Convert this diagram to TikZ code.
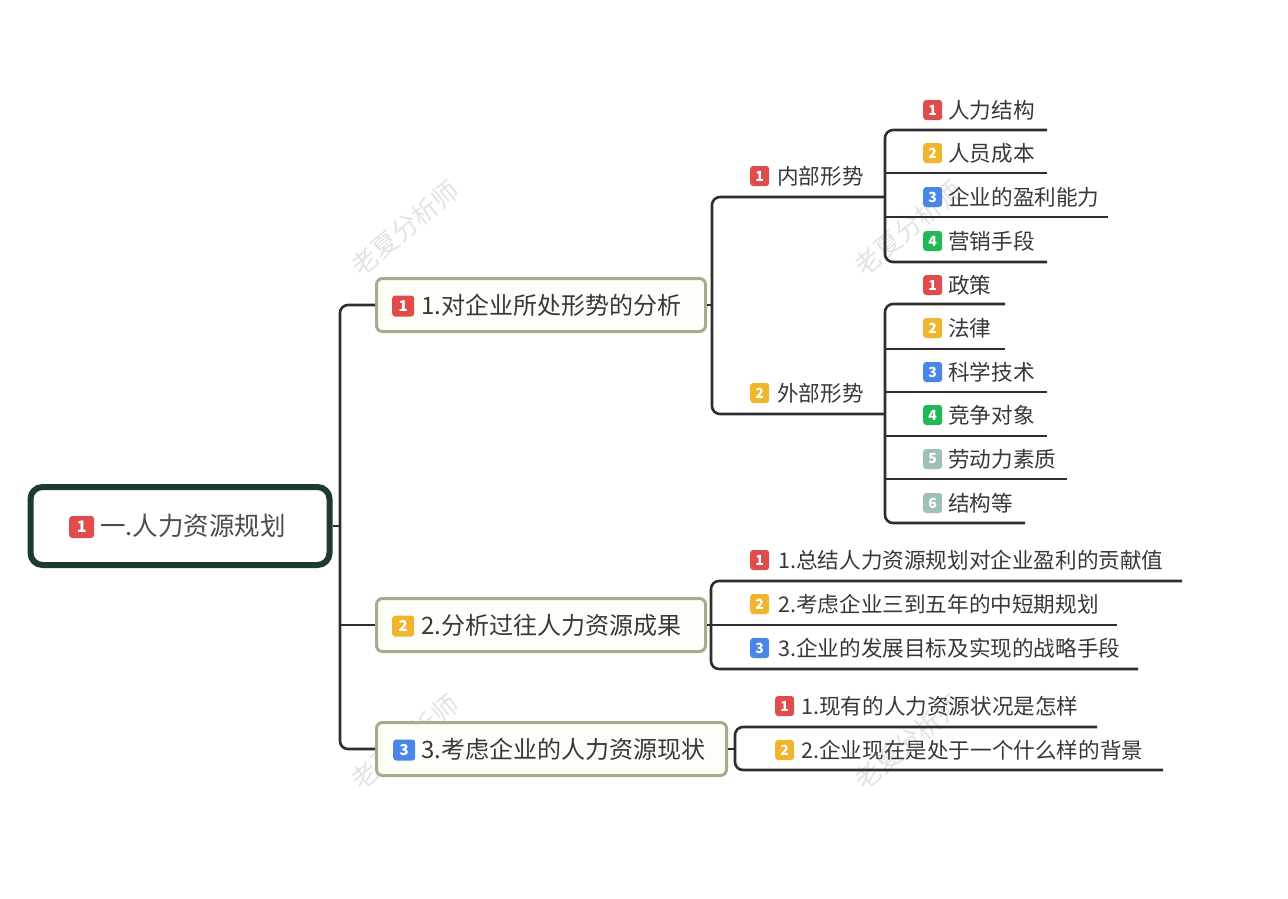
\documentclass[tikz,border=0pt]{standalone}
\usepackage{fontspec}
\setmainfont{Noto Sans CJK SC}
\newfontfamily\cjk{Noto Sans CJK SC}
\definecolor{cred}{HTML}{E04B4B}
\definecolor{corange}{HTML}{F0B42D}
\definecolor{cblue}{HTML}{4A86E8}
\definecolor{cgreen}{HTML}{22B85A}
\definecolor{cgray}{HTML}{9FBFB9}
\definecolor{cline}{HTML}{2E2E2E}
\definecolor{ctext}{HTML}{383838}
\definecolor{croot}{HTML}{1D3A30}
\definecolor{cl1}{HTML}{A9A98C}
\definecolor{cl1fill}{HTML}{FEFEF9}
\tikzset{
  conn/.style={draw=cline, line width=2.6pt, rounded corners=8pt},
  badge/.style={rounded corners=3pt, inner sep=0pt, minimum width=19pt, minimum height=20pt,
    text=white, font=\cjk\bfseries\fontsize{14}{14}\selectfont, anchor=west},
  bigbadge/.style={badge, minimum width=22pt, minimum height=21pt, font=\cjk\bfseries\fontsize{15}{15}\selectfont},
  rootbadge/.style={badge, minimum width=25pt, minimum height=22pt, font=\cjk\bfseries\fontsize{16}{16}\selectfont},
  lbl/.style={inner sep=0pt, anchor=west, text=ctext, font=\cjk\fontsize{21.6}{21.6}\selectfont},
  lbla/.style={lbl, font=\cjk\fontsize{24}{24}\selectfont},
  lblroot/.style={lbl, text=black!70, font=\cjk\fontsize{25.5}{25.5}\selectfont},
  levelone/.style={draw=cl1, fill=cl1fill, line width=3pt, rounded corners=6pt, inner sep=0pt, minimum height=53pt},
  rootbox/.style={draw=croot, fill=white, line width=6pt, rounded corners=12pt, inner sep=0pt,
    minimum width=299pt, minimum height=78pt},
  wm/.style={text=black!11, font=\cjk\fontsize{26}{26}\selectfont, rotate=40, inner sep=0pt}
}
\newcommand\mmleaf[7]{%
  \node[badge, fill=#5] (#1b) at (#2,#3) {#6};
  \node[lbl] (#1) at (#4,#3) {#7};}
\begin{document}
\begin{tikzpicture}[x=1pt, y=-1pt]
\useasboundingbox (0,0) rectangle (1288,898);
\fill[white] (0,0) rectangle (1288,898);

% watermarks
\node[wm] (wm1) at (405,228) {老夏分析师};
\node[wm] (wm2) at (908,228) {老夏分析师};
\node[wm] (wm3) at (405,742) {老夏分析师};
\node[wm] (wm4) at (908,742) {老夏分析师};

% root
\node[rootbox] (root) at (180,526) {};
\node[rootbadge, fill=cred] (rootb) at (69,527) {1};
\node[lblroot] (roott) at (100,526) {一.人力资源规划};

% level one
\node[levelone, minimum width=329pt] (A) at (541,305) {};
\node[bigbadge, fill=cred] (Ab) at (392,306) {1};
\node[lbla] (At) at (421,305) {1.对企业所处形势的分析};

\node[levelone, minimum width=329pt] (B) at (541,625) {};
\node[bigbadge, fill=corange] (Bb) at (392,626) {2};
\node[lbla] (Bt) at (421,625) {2.分析过往人力资源成果};

\node[levelone, minimum width=350pt] (C) at (551.5,749) {};
\node[bigbadge, fill=cblue] (Cb) at (393,750) {3};
\node[lbla] (Ct) at (421,749) {3.考虑企业的人力资源现状};

% root trunk
\coordinate (t1) at (340,305);
\coordinate (t3) at (340,749);
\draw[conn] (A.west) -- (t1) -- (t3) -- (C.west);
\draw[conn] (root.east) -- (root.east -| t1);
\draw[conn] (B.west) -- (B.west -| t1);

% level two under A
\mmleaf{in}{750}{176}{777}{cred}{1}{内部形势}
\mmleaf{out}{750}{393}{777}{corange}{2}{外部形势}
\coordinate (inL) at (712,197);  \coordinate (inR) at (885,197);
\coordinate (outL) at (712,414); \coordinate (outR) at (885,414);
\draw[conn] (inR) -- (inL) -- (outL) -- (outR);
\draw[conn] (A.east) -- (A.east -| inL);

% level three under 内部形势
\mmleaf{i1}{923}{110}{948}{cred}{1}{人力结构}
\mmleaf{i2}{923}{153}{948}{corange}{2}{人员成本}
\mmleaf{i3}{923}{197}{948}{cblue}{3}{企业的盈利能力}
\mmleaf{i4}{923}{241}{948}{cgreen}{4}{营销手段}
\coordinate (i1L) at (885,130); \coordinate (i1R) at (1047,130);
\coordinate (i2L) at (885,173); \coordinate (i2R) at (1047,173);
\coordinate (i3L) at (885,217); \coordinate (i3R) at (1108,217);
\coordinate (i4L) at (885,262); \coordinate (i4R) at (1047,262);
\draw[conn] (i1R) -- (i1L) -- (i4L) -- (i4R);
\draw[conn] (i2L) -- (i2R);
\draw[conn] (i3L) -- (i3R);

% level three under 外部形势
\mmleaf{o1}{923}{285}{948}{cred}{1}{政策}
\mmleaf{o2}{923}{328}{948}{corange}{2}{法律}
\mmleaf{o3}{923}{372}{948}{cblue}{3}{科学技术}
\mmleaf{o4}{923}{415}{948}{cgreen}{4}{竞争对象}
\mmleaf{o5}{923}{459}{948}{cgray}{5}{劳动力素质}
\mmleaf{o6}{923}{503}{948}{cgray}{6}{结构等}
\coordinate (o1L) at (885,304); \coordinate (o1R) at (1005,304);
\coordinate (o2L) at (885,349); \coordinate (o2R) at (1005,349);
\coordinate (o3L) at (885,392); \coordinate (o3R) at (1047,392);
\coordinate (o4L) at (885,436); \coordinate (o4R) at (1047,436);
\coordinate (o5L) at (885,479); \coordinate (o5R) at (1067,479);
\coordinate (o6L) at (885,523); \coordinate (o6R) at (1025,523);
\draw[conn] (o1R) -- (o1L) -- (o6L) -- (o6R);
\draw[conn] (o2L) -- (o2R);
\draw[conn] (o3L) -- (o3R);
\draw[conn] (o4L) -- (o4R);
\draw[conn] (o5L) -- (o5R);

% level two under B
\mmleaf{b1}{750}{560}{778}{cred}{1}{1.总结人力资源规划对企业盈利的贡献值}
\mmleaf{b2}{750}{604}{778}{corange}{2}{2.考虑企业三到五年的中短期规划}
\mmleaf{b3}{750}{648}{778}{cblue}{3}{3.企业的发展目标及实现的战略手段}
\coordinate (b1L) at (711,581); \coordinate (b1R) at (1182,581);
\coordinate (b2L) at (711,625); \coordinate (b2R) at (1117,625);
\coordinate (b3L) at (711,669); \coordinate (b3R) at (1138,669);
\draw[conn] (b1R) -- (b1L) -- (b3L) -- (b3R);
\draw[conn] (b2L) -- (b2R);
\draw[conn] (B.east) -- (B.east -| b2L);

% level two under C
\mmleaf{c1}{775}{706}{801}{cred}{1}{1.现有的人力资源状况是怎样}
\mmleaf{c2}{775}{750}{801}{corange}{2}{2.企业现在是处于一个什么样的背景}
\coordinate (c1L) at (735,727); \coordinate (c1R) at (1097,727);
\coordinate (c2L) at (735,770); \coordinate (c2R) at (1163,770);
\draw[conn] (c1R) -- (c1L) -- (c2L) -- (c2R);
\draw[conn] (C.east) -- (C.east -| c1L);
\end{tikzpicture}
\end{document}
